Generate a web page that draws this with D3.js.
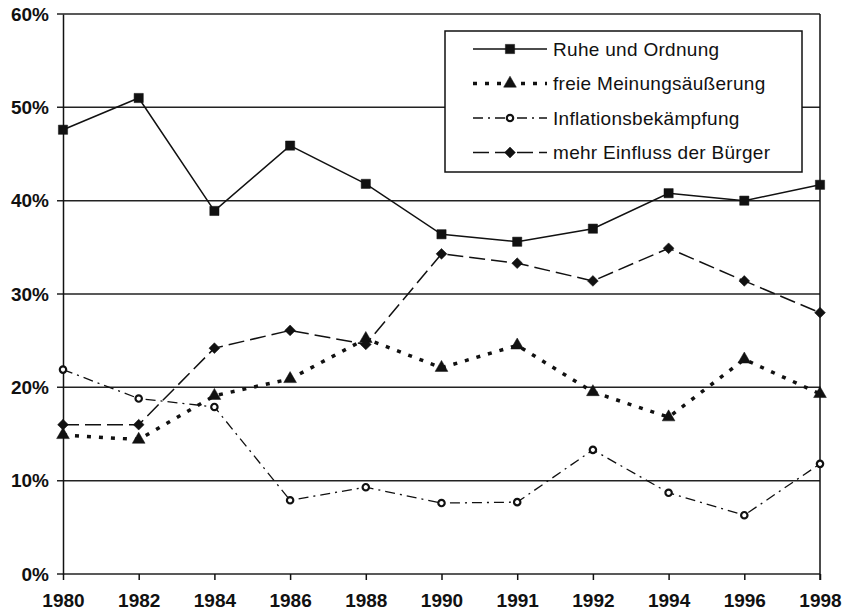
<!DOCTYPE html>
<html>
<head>
<meta charset="utf-8">
<script src="https://cdn.jsdelivr.net/npm/d3@7"></script>
<style>
  body { margin: 0; background: #fff; }
  svg { display: block; font-family: "Liberation Sans", Arial, sans-serif; }
</style>
</head>
<body>
<svg width="846" height="615"></svg>
<script>
const years = ["1980", "1982", "1984", "1986", "1988", "1990", "1991", "1992", "1994", "1996", "1998"];
const ruhe = [47.6, 51.0, 38.9, 45.9, 41.8, 36.4, 35.6, 37.0, 40.8, 40.0, 41.7];
const freie = [14.9, 14.4, 19.1, 20.9, 25.2, 22.1, 24.5, 19.5, 16.8, 23.0, 19.3];
const inflation = [21.9, 18.8, 17.9, 7.9, 9.3, 7.6, 7.7, 13.3, 8.7, 6.3, 11.8];
const einfluss = [16.0, 16.0, 24.2, 26.1, 24.6, 34.3, 33.3, 31.4, 34.9, 31.4, 28.0];
const yTicks = [0, 10, 20, 30, 40, 50, 60];

const series = [
  { name: "Ruhe und Ordnung", values: ruhe, dash: null, width: 1.5, symbol: d3.symbolSquare, size: 85, rot: 0, hollow: false },
  { name: "freie Meinungsäußerung", values: freie, dash: "4,8", width: 3.5, symbol: d3.symbolTriangle, size: 70, rot: 0, hollow: false },
  { name: "Inflationsbekämpfung", values: inflation, dash: "10,5,2,5", width: 1.3, symbol: d3.symbolCircle, size: 32, rot: 0, hollow: true },
  { name: "mehr Einfluss der Bürger", values: einfluss, dash: "16,6", width: 1.5, symbol: d3.symbolSquare, size: 58, rot: 45, hollow: false }
];

const svg = d3.select("svg");
const x = d3.scalePoint().domain(years).range([63, 820]);
const y = d3.scaleLinear().domain([0, 60]).range([574, 14]);

// Gitterlinien
svg.append("g")
  .selectAll("line")
  .data(yTicks)
  .join("line")
  .attr("x1", 57).attr("x2", 820)
  .attr("y1", d => y(d)).attr("y2", d => y(d))
  .attr("stroke", "#222").attr("stroke-width", 1.5);

// Achsen
const yAxis = svg.append("g")
  .attr("transform", "translate(63,0)")
  .call(d3.axisLeft(y).tickValues(yTicks).tickFormat(d => d + "%").tickSize(0).tickPadding(14));
yAxis.select(".domain").attr("stroke", "#111").attr("stroke-width", 1.5);
yAxis.selectAll("text").attr("font-size", 19).attr("font-weight", "bold").attr("fill", "#111")
  .attr("font-family", "Liberation Sans, Arial, sans-serif");

const xAxis = svg.append("g")
  .attr("transform", "translate(0,574)")
  .call(d3.axisBottom(x).tickSize(6).tickPadding(14));
xAxis.select(".domain").remove();
xAxis.selectAll("line").attr("stroke", "#111").attr("stroke-width", 1.5);
xAxis.selectAll("text").attr("font-size", 19).attr("font-weight", "bold").attr("fill", "#111")
  .attr("font-family", "Liberation Sans, Arial, sans-serif");

svg.append("line")
  .attr("x1", 820).attr("x2", 820).attr("y1", y(60)).attr("y2", y(0) + 6)
  .attr("stroke", "#111").attr("stroke-width", 1.5);

// Linien
const line = d3.line().x((d, i) => x(years[i])).y(d => y(d));

series.forEach(s => {
  svg.append("path")
    .datum(s.values)
    .attr("d", line)
    .attr("fill", "none")
    .attr("stroke", "#111")
    .attr("stroke-width", s.width)
    .attr("stroke-dasharray", s.dash);

  svg.append("g")
    .selectAll("path")
    .data(s.values)
    .join("path")
    .attr("transform", (d, i) => `translate(${x(years[i])},${y(d)}) rotate(${s.rot})`)
    .attr("d", d3.symbol(s.symbol, s.size))
    .attr("fill", s.hollow ? "#fff" : "#111")
    .attr("stroke", "#111")
    .attr("stroke-width", s.hollow ? 2.2 : 0.5);
});

// Legende
const legend = svg.append("g");
legend.append("rect")
  .attr("x", 445).attr("y", 31).attr("width", 357).attr("height", 141)
  .attr("fill", "#fff").attr("stroke", "#111").attr("stroke-width", 1.5);

const items = legend.selectAll("g.item")
  .data(series)
  .join("g")
  .attr("class", "item")
  .attr("transform", (d, i) => `translate(0,${49 + i * 34.5})`);

items.append("line")
  .attr("x1", 473).attr("x2", 547)
  .attr("stroke", "#111")
  .attr("stroke-width", d => d.width)
  .attr("stroke-dasharray", d => d.dash);

items.append("path")
  .attr("transform", d => `translate(510,0) rotate(${d.rot})`)
  .attr("d", d => d3.symbol(d.symbol, d.size)())
  .attr("fill", d => d.hollow ? "#fff" : "#111")
  .attr("stroke", "#111")
  .attr("stroke-width", d => d.hollow ? 2.2 : 0.5);

items.append("text")
  .attr("x", 553).attr("y", 0).attr("dy", "0.35em")
  .attr("font-size", 19)
  .attr("letter-spacing", 0.3)
  .attr("fill", "#111")
  .text(d => d.name);
</script>
</body>
</html>
